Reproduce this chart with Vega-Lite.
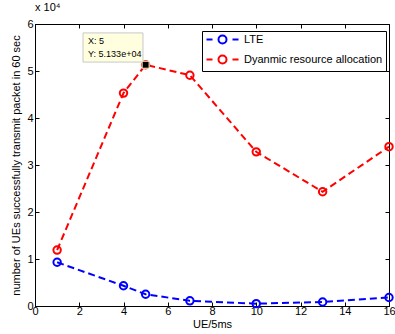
{
  "$schema": "https://vega.github.io/schema/vega-lite/v6.json",
  "width": 354,
  "height": 282,
  "autosize": {"type": "none"},
  "padding": {"left": 35, "top": 24, "right": 6, "bottom": 28},
  "background": "white",
  "config": {
    "font": "Liberation Sans",
    "view": {"stroke": "black", "strokeWidth": 1},
    "axis": {
      "grid": false,
      "domainColor": "black",
      "tickColor": "black",
      "labelColor": "black",
      "titleColor": "black",
      "labelFontSize": 11,
      "titleFontSize": 11,
      "titleFontWeight": "normal",
      "tickSize": -4,
      "labelFlush": false,
      "labelFont": "Liberation Sans",
      "titleFont": "Liberation Sans"
    },
    "legend": {
      "orient": "none",
      "legendX": 167,
      "legendY": 7,
      "fillColor": "white",
      "strokeColor": "black",
      "strokeWidth": 1,
      "padding": 3,
      "cornerRadius": 0,
      "labelFontSize": 11,
      "labelFont": "Liberation Sans",
      "labelColor": "black",
      "rowPadding": 3,
      "symbolType": "M-1,0H0.5M2,0A1,1 0 1,1 4,0A1,1 0 1,1 2,0M5.5,0H7",
      "symbolSize": 64,
      "symbolStrokeWidth": 2,
      "symbolFillColor": "transparent",
      "labelOffset": 28
    }
  },
  "title": {
    "text": "x 10⁴",
    "anchor": "start",
    "frame": "group",
    "fontSize": 11,
    "fontWeight": "normal",
    "font": "Liberation Sans",
    "offset": 5,
    "color": "black"
  },
  "datasets": {
    "series": [
      {"x": 1, "y": 9300, "series": "LTE"},
      {"x": 4, "y": 4300, "series": "LTE"},
      {"x": 5, "y": 2500, "series": "LTE"},
      {"x": 7, "y": 1100, "series": "LTE"},
      {"x": 10, "y": 500, "series": "LTE"},
      {"x": 13, "y": 850, "series": "LTE"},
      {"x": 16, "y": 1800, "series": "LTE"},
      {"x": 1, "y": 11900, "series": "Dyanmic resource allocation"},
      {"x": 4, "y": 45300, "series": "Dyanmic resource allocation"},
      {"x": 5, "y": 51330, "series": "Dyanmic resource allocation"},
      {"x": 7, "y": 49100, "series": "Dyanmic resource allocation"},
      {"x": 10, "y": 32800, "series": "Dyanmic resource allocation"},
      {"x": 13, "y": 24300, "series": "Dyanmic resource allocation"},
      {"x": 16, "y": 33900, "series": "Dyanmic resource allocation"}
    ],
    "tip": [{"x0": 2.17, "x1": 4.88, "y0": 51900, "y1": 58100}],
    "tiptext": [
      {"x": 2.4, "y": 56300, "label": "X: 5"},
      {"x": 2.4, "y": 53700, "label": "Y: 5.133e+04"}
    ],
    "marker": [{"x": 5, "y": 51330}]
  },
  "layer": [
    {
      "data": {"name": "series"},
      "mark": {"type": "line", "interpolate": "linear", "strokeDash": [7, 4], "strokeWidth": 2},
      "encoding": {
        "x": {
          "field": "x", "type": "quantitative",
          "scale": {"domain": [0, 16], "nice": false},
          "axis": {"values": [0, 2, 4, 6, 8, 10, 12, 14, 16], "title": "UE/5ms", "labelPadding": 3, "titlePadding": 2}
        },
        "y": {
          "field": "y", "type": "quantitative",
          "scale": {"domain": [0, 60000], "nice": false},
          "axis": {"values": [0, 10000, 20000, 30000, 40000, 50000, 60000], "labelExpr": "datum.value / 10000", "title": "number of UEs successfully transmit packet in 60 sec", "labelPadding": 6, "titlePadding": 5}
        },
        "color": {
          "field": "series", "type": "nominal",
          "scale": {"domain": ["LTE", "Dyanmic resource allocation"], "range": ["#0000ff", "#ff0000"]},
          "legend": {"title": null}
        }
      }
    },
    {
      "data": {"name": "series"},
      "mark": {"type": "point", "shape": "circle", "filled": false, "size": 55, "strokeWidth": 2, "opacity": 1},
      "encoding": {
        "x": {"field": "x", "type": "quantitative", "scale": {"domain": [0, 16], "nice": false}, "axis": null},
        "y": {"field": "y", "type": "quantitative", "scale": {"domain": [0, 60000], "nice": false}, "axis": null},
        "color": {"field": "series", "type": "nominal", "legend": null}
      }
    },
    {
      "data": {"name": "tip"},
      "mark": {"type": "rect", "fill": "#ffffe0", "stroke": "#c8c8c8", "strokeWidth": 1},
      "encoding": {
        "x": {
          "field": "x0", "type": "quantitative", "scale": {"domain": [0, 16], "nice": false},
          "axis": {"orient": "top", "values": [0, 2, 4, 6, 8, 10, 12, 14, 16], "labels": false, "domain": false, "title": null}
        },
        "x2": {"field": "x1"},
        "y": {
          "field": "y0", "type": "quantitative", "scale": {"domain": [0, 60000], "nice": false},
          "axis": {"orient": "right", "values": [0, 10000, 20000, 30000, 40000, 50000, 60000], "labels": false, "domain": false, "title": null}
        },
        "y2": {"field": "y1"}
      }
    },
    {
      "data": {"name": "tiptext"},
      "mark": {"type": "text", "align": "left", "baseline": "middle", "fontSize": 9, "font": "Liberation Sans", "color": "black"},
      "encoding": {
        "x": {"field": "x", "type": "quantitative", "scale": {"domain": [0, 16], "nice": false}, "axis": null},
        "y": {"field": "y", "type": "quantitative", "scale": {"domain": [0, 60000], "nice": false}, "axis": null},
        "text": {"field": "label"}
      }
    },
    {
      "data": {"name": "marker"},
      "mark": {"type": "square", "size": 49, "fill": "black", "stroke": "#ffffcc", "strokeWidth": 1, "opacity": 1},
      "encoding": {
        "x": {"field": "x", "type": "quantitative", "scale": {"domain": [0, 16], "nice": false}, "axis": null},
        "y": {"field": "y", "type": "quantitative", "scale": {"domain": [0, 60000], "nice": false}, "axis": null}
      }
    }
  ],
  "resolve": {"axis": {"x": "independent", "y": "independent"}}
}
